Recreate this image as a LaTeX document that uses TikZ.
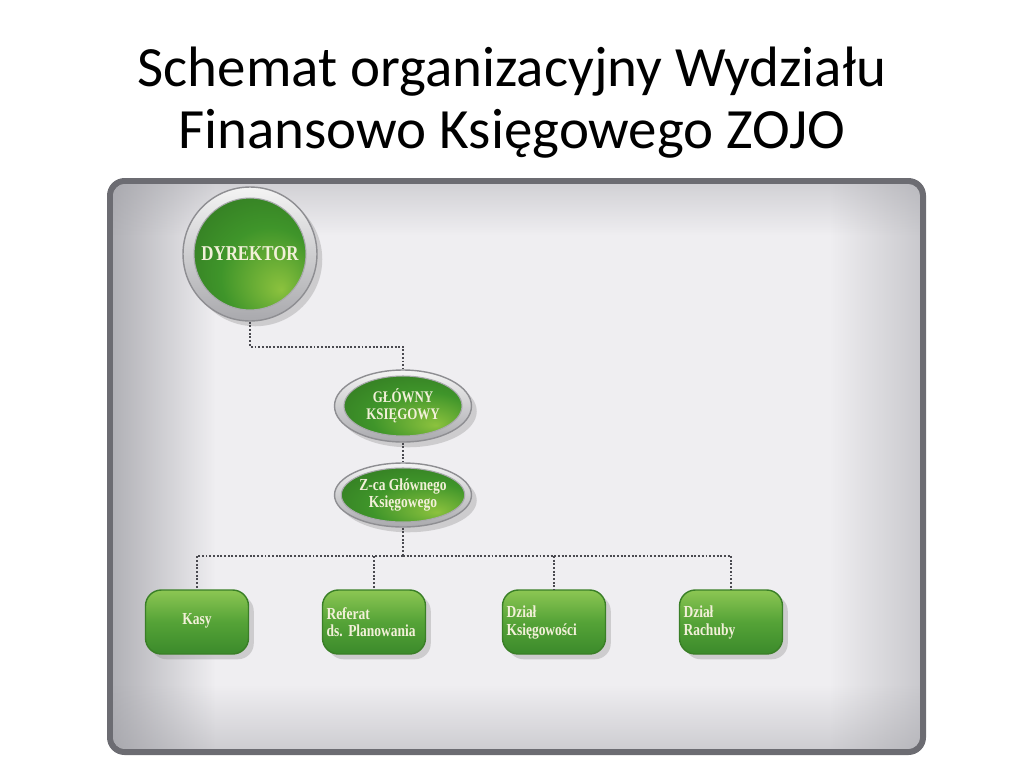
\documentclass[tikz,border=0pt]{standalone}
\usepackage{fontspec}
\setmainfont{Carlito}
\newfontfamily\boxfont[FakeStretch=0.8]{Liberation Serif}
\usetikzlibrary{shapes.geometric,shadows,fadings,positioning}
\definecolor{panelrim}{HTML}{6C6C72}
\definecolor{panelbase}{HTML}{EFEEF1}
\definecolor{edgegray}{HTML}{9D9DA3}
\definecolor{ringlight}{HTML}{F4F4F4}
\definecolor{ringdark}{HTML}{A9A9AD}
\definecolor{ringrim}{HTML}{8E8E92}
\definecolor{balldark}{HTML}{2D6E1F}
\definecolor{ballmid}{HTML}{3F952A}
\definecolor{ballhi}{HTML}{8CC23E}
\definecolor{unitlight}{HTML}{8CC653}
\definecolor{unitmid}{HTML}{55A337}
\definecolor{unitdark}{HTML}{3B8A2B}
\definecolor{unitrim}{HTML}{3A7F27}
\definecolor{labelcream}{HTML}{F2F0D9}
\definecolor{linkgray}{HTML}{4A4A50}
\pgfdeclareradialshading{greenball}{\pgfpoint{14bp}{-16bp}}{color(0bp)=(ballhi); color(22bp)=(ballmid); color(48bp)=(balldark); color(60bp)=(balldark)}
\tikzstyle{ring}=[draw=ringrim,line width=0.8pt,top color=ringlight,bottom color=ringdark,inner sep=0pt,drop shadow={opacity=0.3,shadow xshift=3pt,shadow yshift=-3pt}]
\tikzstyle{ball}=[draw=ringdark,line width=0.6pt,shading=greenball,text=labelcream,inner sep=0pt,align=center]
\tikzstyle{unit}=[rectangle,rounded corners=9pt,minimum width=2.06cm,minimum height=1.28cm,text width=1.9cm,inner xsep=0.08cm,inner ysep=0.15cm,align=left,top color=unitlight,bottom color=unitdark,middle color=unitmid,draw=unitrim,line width=0.8pt,text=labelcream,drop shadow={opacity=0.3,shadow xshift=3pt,shadow yshift=-3pt}]
\tikzstyle{link}=[densely dotted,line width=1.1pt,linkgray]

\begin{document}
\begin{tikzpicture}[x=0.02cm,y=-0.02cm,font={\boxfont\bfseries\fontsize{9.6}{10}\selectfont}]
  \useasboundingbox (0,0) rectangle (1024,768);
  \node[anchor=base,font={\fontsize{32.4}{35}\selectfont}] (title1) at (512,86) {Schemat organizacyjny Wydziału};
  \node[anchor=base,font={\fontsize{32.4}{35}\selectfont}] (title2) at (512,148) {Finansowo Księgowego ZOJO};
  % panel
  \fill[panelrim,rounded corners=10pt] (107,178) rectangle (926,755);
  \begin{scope}
    \clip[rounded corners=7pt] (113,184) rectangle (920,749);
    \fill[panelbase] (113,184) rectangle (920,749);
    \fill[edgegray,path fading=east,opacity=0.75] (113,184) rectangle (215,749);
    \fill[edgegray,path fading=west,opacity=0.45] (830,184) rectangle (920,749);
    \fill[edgegray,path fading=north,opacity=0.4] (113,685) rectangle (920,749);
    \fill[edgegray,path fading=south,opacity=0.35] (113,184) rectangle (920,235);
  \end{scope}
  % heads
  \node[ring,circle,minimum size=2.68cm] (dyrektor) at (250,254) {};
  \node[ball,circle,minimum size=2.24cm,font={\boxfont\bfseries\fontsize{12}{12}\selectfont}] (dyrektor-in) at (dyrektor) {DYREKTOR};
  \node[ring,ellipse,minimum width=2.74cm,minimum height=1.44cm] (glowny) at (403,406) {};
  \node[ball,ellipse,minimum width=2.36cm,minimum height=1.2cm,font={\boxfont\bfseries\fontsize{9.2}{9.7}\selectfont}] (glowny-in) at (glowny) {GŁÓWNY\\KSIĘGOWY};
  \node[ring,ellipse,minimum width=2.74cm,minimum height=1.28cm] (zca) at (403,495) {};
  \node[ball,ellipse,minimum width=2.3cm,minimum height=1.08cm,font={\boxfont\bfseries\fontsize{9.6}{9.7}\selectfont}] (zca-in) at (zca) {Z-ca Głównego\\Księgowego};
  % units
  \node[unit,align=center] (kasy) at (197,622) {\raisebox{4pt}{Kasy}};
  \node[unit] (referat) at (374,622) {\strut Referat\\ds.\ Planowania};
  \node[unit] (ksiegowosc) at (554,622) {\strut Dział\\Księgowości};
  \node[unit] (rachuby) at (731,622) {\strut Dział\\Rachuby};
  % links
  \draw[link] (dyrektor.south) -- ++(0,25) -| (glowny.north);
  \draw[link] (glowny.south) -- (zca.north);
  \draw[link] (zca.south) -- ++(0,28) coordinate (bus);
  \foreach \n in {kasy,referat,ksiegowosc,rachuby}
    \draw[link] (bus) -| (\n.north);
\end{tikzpicture}
\end{document}
